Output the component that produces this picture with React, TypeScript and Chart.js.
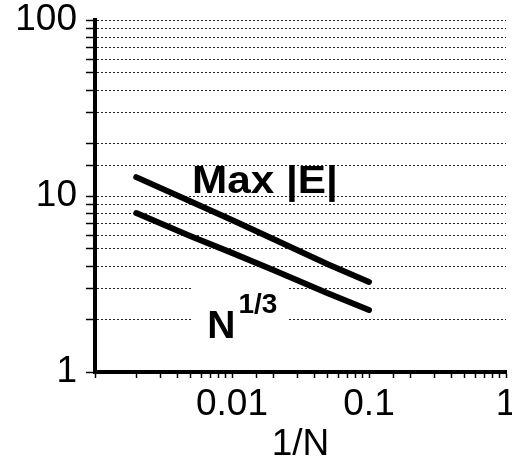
import React, { useEffect, useRef } from "react";
import { Chart, registerables } from "chart.js";

Chart.register(...registerables);

// 1/N values where the curves were read
const invN = [0.002, 0.005, 0.01, 0.02, 0.05, 0.1];
// Max |E| curve
const maxE = [12.8, 9.3, 7.3, 5.7, 4.1, 3.25];
// N^(1/3) curve
const nCubeRoot = [8.0, 5.9, 4.75, 3.8, 2.8, 2.25];
// labelled ticks
const xLabelTicks = [0.01, 0.1, 1];
const yLabelTicks = [1, 10, 100];
const xTickText = ["0.01", "0.1", "1"];
const yTickText = ["1", "10", "100"];

// annotation anchors (data space)
const maxELabel = { text: "Max |E|", x: 0.0051, y: 10.4 };
const nLabel = { text: "N", sup: "1/3", x: 0.0066, y: 1.56 };

const FONT = '"Liberation Sans", Arial, Helvetica, sans-serif';

const near = (v: number, list: number[]) =>
  list.findIndex((t) => Math.abs(Math.log10(v) - Math.log10(t)) < 1e-6);

const annotations = {
  id: "annotations",
  beforeDatasetsDraw(chart: any) {
    const { ctx, scales } = chart;
    const x = scales.x.getPixelForValue(nLabel.x);
    const y = scales.y.getPixelForValue(nLabel.y);
    ctx.save();
    ctx.fillStyle = "#fff";
    ctx.fillRect(x - 15, y - 60, 96, 68);
    ctx.restore();
  },
  afterDatasetsDraw(chart: any) {
    const { ctx, scales } = chart;
    ctx.save();
    ctx.fillStyle = "#000";
    ctx.textBaseline = "alphabetic";
    ctx.textAlign = "left";
    // Max |E|
    ctx.font = `bold 38px ${FONT}`;
    const mx = scales.x.getPixelForValue(maxELabel.x);
    const my = scales.y.getPixelForValue(maxELabel.y);
    const w = ctx.measureText(maxELabel.text).width;
    ctx.save();
    ctx.translate(mx, my);
    ctx.scale(146 / w, 1);
    ctx.fillText(maxELabel.text, 0, 0);
    ctx.restore();
    // N^(1/3)
    const nx = scales.x.getPixelForValue(nLabel.x);
    const ny = scales.y.getPixelForValue(nLabel.y);
    ctx.font = `bold 39px ${FONT}`;
    ctx.fillText(nLabel.text, nx, ny);
    const nw = ctx.measureText(nLabel.text).width;
    ctx.font = `bold 28px ${FONT}`;
    ctx.fillText(nLabel.sup, nx + nw + 3, ny - 25);
    ctx.restore();
  },
};

export default function App() {
  const ref = useRef<HTMLCanvasElement | null>(null);

  useEffect(() => {
    if (!ref.current) return;
    const chart = new Chart(ref.current, {
      type: "line",
      data: {
        datasets: [
          {
            label: "Max |E|",
            data: invN.map((x, i) => ({ x, y: maxE[i] })),
            borderColor: "#000",
            borderWidth: 6,
            borderCapStyle: "round",
            pointRadius: 0,
            tension: 0,
          },
          {
            label: "N^(1/3)",
            data: invN.map((x, i) => ({ x, y: nCubeRoot[i] })),
            borderColor: "#000",
            borderWidth: 6,
            borderCapStyle: "round",
            pointRadius: 0,
            tension: 0,
          },
        ],
      },
      options: {
        responsive: false,
        animation: false,
        devicePixelRatio: 1,
        layout: { padding: { top: 20, right: 6, left: 0, bottom: 0 } },
        plugins: {
          legend: { display: false },
          tooltip: { enabled: false },
        },
        scales: {
          x: {
            type: "logarithmic",
            min: 0.001,
            max: 1,
            border: { display: true, color: "#000", width: 4 },
            grid: {
              drawOnChartArea: false,
              drawTicks: true,
              tickLength: 6,
              tickColor: "#000",
              tickWidth: 1.5,
              tickBorderDash: [],
            },
            ticks: {
              autoSkip: false,
              maxRotation: 0,
              padding: 5,
              color: "#000",
              font: { family: FONT, size: 37 },
              callback: (v: any) => {
                const i = near(Number(v), xLabelTicks);
                return i >= 0 ? xTickText[i] : "";
              },
            },
            title: {
              display: true,
              text: "1/N",
              color: "#000",
              font: { family: FONT, size: 37, lineHeight: 1 },
              padding: { top: 0, bottom: 0 },
            },
            afterFit: (s: any) => {
              s.height = 91;
              s.paddingLeft = 0;
              s.paddingRight = 0;
            },
          },
          y: {
            type: "logarithmic",
            min: 1,
            max: 100,
            border: { display: true, color: "#000", width: 4, dash: [2, 2] },
            grid: {
              drawOnChartArea: true,
              drawTicks: true,
              tickLength: 9,
              color: "#222",
              lineWidth: 1,
              tickColor: "#000",
              tickWidth: 1.5,
              tickBorderDash: [],
            },
            ticks: {
              autoSkip: false,
              padding: 9,
              color: "#000",
              font: { family: FONT, size: 37 },
              callback: (v: any) => {
                const i = near(Number(v), yLabelTicks);
                return i >= 0 ? yTickText[i] : "";
              },
            },
            afterFit: (s: any) => {
              s.width = 95;
              s.paddingTop = 0;
              s.paddingBottom = 0;
            },
          },
        },
      } as any,
      plugins: [annotations],
    });
    return () => chart.destroy();
  }, []);

  return (
    <div style={{ position: "fixed", left: 0, top: 0, width: 512, height: 463, background: "#fff" }}>
      <canvas ref={ref} width={512} height={463} />
    </div>
  );
}
